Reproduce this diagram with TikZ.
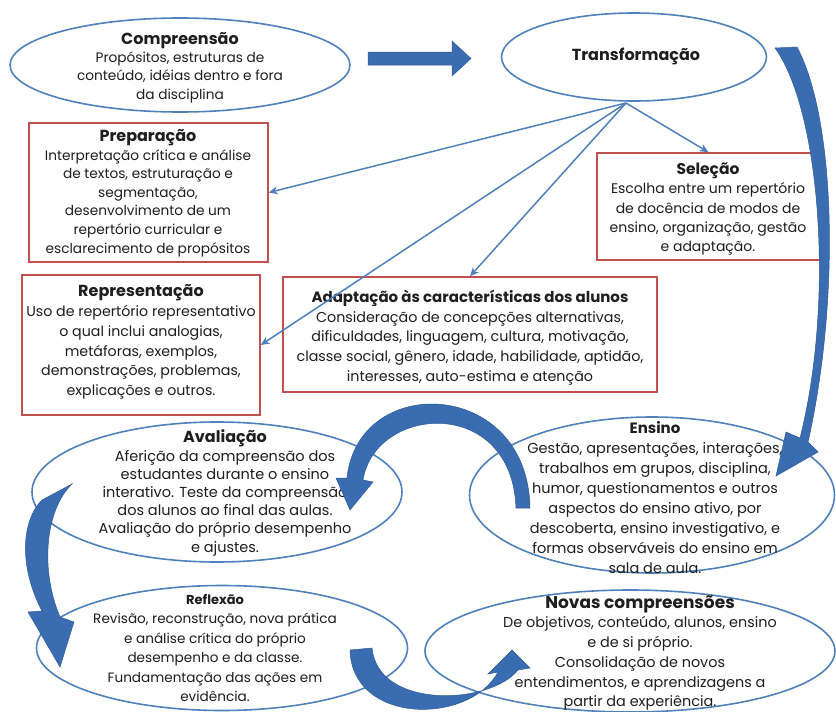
\documentclass[tikz,border=0pt]{standalone}
\usepackage{fontspec}
\setmainfont{Poppins}
\usetikzlibrary{shapes.geometric,arrows.meta}
\definecolor{ellblue}{RGB}{79,129,189}
\definecolor{arrblue}{RGB}{58,108,178}
\definecolor{boxred}{RGB}{192,80,77}
\definecolor{txtcol}{RGB}{30,30,30}
\newcommand\myfs[2]{\fontsize{#1}{#2}\selectfont}
\tikzset{
 ell/.style={draw=ellblue, line width=1.6pt, ellipse, inner sep=0pt},
 box/.style={draw=boxred, line width=1.5pt, rectangle, inner sep=0pt},
 txt/.style={align=center, inner sep=0pt, text=txtcol},
 conn/.style={draw=ellblue, line width=1.5pt, -{Stealth[length=9pt,width=8pt]}},
 blockarrow/.style={fill=arrblue, draw=arrblue!85!black, line width=0.5pt},
}
\begin{document}
\begin{tikzpicture}[x=1pt,y=-1pt]
\useasboundingbox[fill=white] (0,0) rectangle (836,712);

% ellipses
\node[ell, minimum width=340pt, minimum height=94pt] (comp) at (180,65) {};
\node[ell, minimum width=265pt, minimum height=88pt] (transf) at (634,57) {};
\node[ell, minimum width=370pt, minimum height=140pt] (aval) at (217,492) {};
\node[ell, minimum width=365pt, minimum height=156pt] (ensino) at (652,495) {};
\node[ell, minimum width=371pt, minimum height=125pt] (refl) at (222,648) {};
\node[ell, minimum width=410pt, minimum height=122pt] (novas) at (630,651) {};

% boxes
\node[box, minimum width=239pt, minimum height=139pt] (prep) at (148.5,192.5) {};
\node[box, minimum width=223pt, minimum height=107pt] (sel) at (708.5,206.5) {};
\node[box, minimum width=238pt, minimum height=140pt] (rep) at (141,345) {};
\node[box, minimum width=374pt, minimum height=115pt] (adap) at (470,334.5) {};

% texts
\node[txt, font=\myfs{13.7}{18.3}] (compT) at (180,67.5)
 {{\myfs{16}{18}\bfseries Compreensão}\\Propósitos, estruturas de\\conteúdo, idéias dentro e fora\\da disciplina};
\node[txt, font=\myfs{16}{18}\bfseries] (transfT) at (636,56) {Transformação};
\node[txt, font=\myfs{13.7}{18.6}] (prepT) at (148,193)
 {{\myfs{16}{18}\bfseries Preparação}\\Interpretação crítica e análise\\de textos, estruturação e\\segmentação,\\desenvolvimento de um\\repertório curricular e\\esclarecimento de propósitos};
\node[txt, font=\myfs{14}{19.3}] (selT) at (708,209)
 {{\myfs{15.5}{18}\bfseries Seleção}\\Escolha entre um repertório\\de docência de modos de\\ensino, organização, gestão\\e adaptação.};
\node[txt, font=\myfs{14.2}{19.8}] (repT) at (141,342)
 {{\myfs{16}{18}\bfseries Representação}\\Uso de repertório representativo\\o qual inclui analogias,\\metáforas, exemplos,\\demonstrações, problemas,\\explicações e outros.};
\node[txt, font=\myfs{14.3}{19.7}] (adapT) at (470,337.5)
 {{\myfs{15}{18}\bfseries Adaptação às características dos alunos}\\Consideração de concepções alternativas,\\dificuldades, linguagem, cultura, motivação,\\classe social, gênero, idade, habilidade, aptidão,\\interesses, auto-estima e atenção};
\node[txt, font=\myfs{14.5}{18.2}] (avalT) at (225,493)
 {{\myfs{16}{18}\bfseries Avaliação}\\Aferição da compreensão dos\\estudantes durante o ensino\\interativo. Teste da compreensão\\dos alunos ao final das aulas.\\Avaliação do próprio desempenho\\e ajustes.};
\node[txt, font=\myfs{14.5}{20}] (ensinoT) at (655,498)
 {{\myfs{15}{18}\bfseries Ensino}\\Gestão, apresentações, interações,\\trabalhos em grupos, disciplina,\\humor, questionamentos e outros\\aspectos do ensino ativo, por\\descoberta, ensino investigativo, e\\formas observáveis do ensino em\\sala de aula.};
\node[txt, font=\myfs{13.6}{19.5}] (reflT) at (215,648)
 {{\myfs{13}{18}\bfseries Reflexão}\\Revisão, reconstrução, nova prática\\e análise crítica do próprio\\desempenho e da classe.\\Fundamentação das ações em\\evidência.};
\node[txt, font=\myfs{14.4}{19.75}] (novasT) at (640,653)
 {{\myfs{17}{18}\bfseries Novas compreensões}\\De objetivos, conteúdo, alunos, ensino\\e de si próprio.\\Consolidação de novos\\entendimentos, e aprendizagens a\\partir da experiência.};

% connectors from Transformação
\coordinate (tb) at (626,103);
\draw[conn] (tb) -- (prep.east);
\draw[conn] (tb) -- (sel.north);
\draw[conn] (tb) -- (adap.north);
\draw[conn] (tb) -- (rep.east);

% straight block arrow Compreensão -> Transformação
\path[blockarrow] (368,52) -- (452,52) -- (452,41) -- (471,58.5) -- (452,76) -- (452,65) -- (368,65) -- cycle;

% big curved arrow Transformação -> Ensino
\path[blockarrow] (775,48) .. controls (820,110) and (835,300) .. (800,438)
  -- (786,432) -- (776,476) -- (818,452) -- (808,442)
  .. controls (840,300) and (836,120) .. (797,47) -- cycle;

% arc arrow Ensino -> Avaliação
\path[blockarrow] (530,508) .. controls (528,378) and (358,372) .. (347,478)
  -- (336,478) -- (350,510) -- (373,482) -- (363,480)
  .. controls (375,405) and (512,395) .. (516,508) -- cycle;

% left arrow Avaliação -> Reflexão
\path[blockarrow] (72,484) .. controls (45,510) and (40,570) .. (60,617)
  -- (74,622) -- (60,667) -- (28,612) -- (42,611)
  .. controls (18,565) and (22,520) .. (42,500) -- cycle;

% bottom arrow Reflexão -> Novas compreensões
\path[blockarrow] (350,650) .. controls (352,725) and (470,725) .. (498,672)
  -- (488,674) -- (512,650) -- (530,668) -- (518,670)
  .. controls (490,705) and (378,710) .. (372,648) -- cycle;
\end{tikzpicture}
\end{document}
